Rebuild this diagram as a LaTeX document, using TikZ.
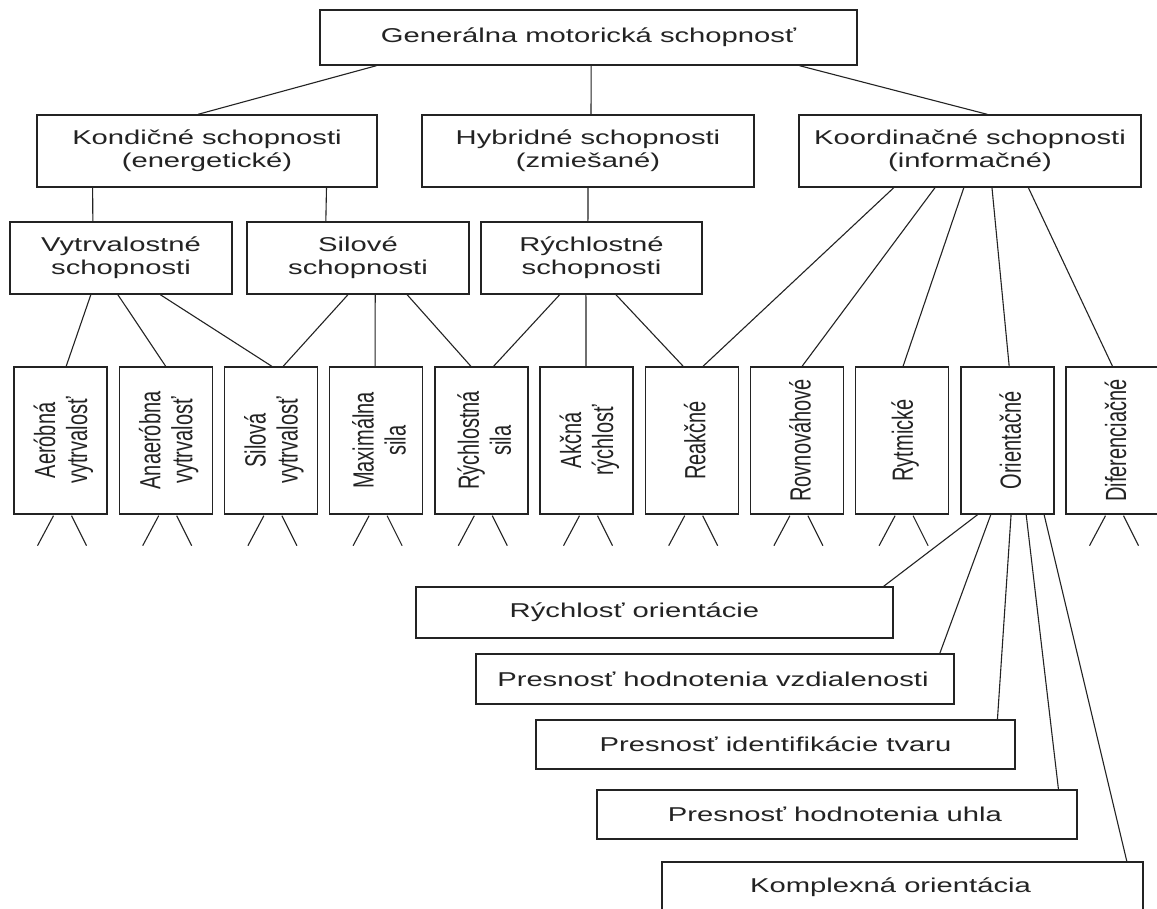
\documentclass[tikz,border=0pt]{standalone}
\usepackage{fontspec}
\newfontfamily\hfont[FakeStretch=1.46]{Liberation Sans}
\newfontfamily\vfont[FakeStretch=0.685]{Liberation Sans}
\usetikzlibrary{calc}
\definecolor{ink}{RGB}{35,35,35}
\begin{document}
\begin{tikzpicture}[x=1pt,y=-1pt,
  hbox/.style={draw=ink, line width=1.4pt, inner sep=0pt, text=ink, align=center,
    font=\hfont\fontsize{20}{23}\selectfont},
  vbox/.style={draw=ink, line width=1.4pt, inner sep=0pt, minimum width=93pt, minimum height=147pt},
  vtext/.style={rotate=90, inner sep=0pt, text=ink, align=center, yshift=-3pt,
    font=\vfont\fontsize{29.2}{32}\selectfont},
  ptext/.style={inner sep=0pt, text=ink, font=\hfont\fontsize{20}{23}\selectfont},
  link/.style={draw=ink, line width=1.1pt}]
\useasboundingbox (0,0) rectangle (1157,909);
\fill[white] (0,0) rectangle (1157,909);
\clip (0,0) rectangle (1157,909);

% level 1-3
\node[hbox, minimum width=537pt, minimum height=55pt] (T) at (588.5,37.5) {Generálna motorická schopnosť};
\node[hbox, minimum width=340pt, minimum height=72pt] (K) at (207,151) {Kondičné schopnosti\\(energetické)};
\node[hbox, minimum width=332pt, minimum height=72pt] (H) at (588,151) {Hybridné schopnosti\\(zmiešané)};
\node[hbox, minimum width=342pt, minimum height=72pt] (C) at (970,151) {Koordinačné schopnosti\\(informačné)};
\node[hbox, minimum width=222pt, minimum height=72pt] (V) at (121,258) {Vytrvalostné\\schopnosti};
\node[hbox, minimum width=222pt, minimum height=72pt] (S) at (358,258) {Silové\\schopnosti};
\node[hbox, minimum width=221pt, minimum height=72pt] (R) at (591.5,258) {Rýchlostné\\schopnosti};

% vertical boxes
\foreach \i in {1,...,11}
  \node[vbox] (b\i) at ({60.5+105.2*(\i-1)},440.5) {};
\foreach \i/\txt in {1/{Aeróbná\\vytrvalosť}, 2/{Anaeróbna\\vytrvalosť}, 3/{Silová\\vytrvalosť},
  4/{Maximálna\\sila}, 5/{Rýchlostná\\sila}, 6/{Akčná\\rýchlosť}, 7/{Reakčné},
  8/{Rovnováhové}, 9/{Rytmické}, 10/{Orientačné}, 11/{Diferenciačné}}
  \node[vtext] (t\i) at (b\i) {\txt};

% orientation sub-boxes
\node[hbox, minimum width=477pt, minimum height=51pt] (P1) at (654.5,612.5) {};
\node[hbox, minimum width=478pt, minimum height=50pt] (P2) at (715,679) {};
\node[hbox, minimum width=479pt, minimum height=49pt] (P3) at (775.5,744.5) {};
\node[hbox, minimum width=480pt, minimum height=49pt] (P4) at (837,814.5) {};
\node[hbox, minimum width=481pt, minimum height=50pt] (P5) at (902.5,887) {};
\node[ptext] (P1t) at ([xshift=-20pt]P1.center) {Rýchlosť orientácie};
\node[ptext] (P2t) at ([xshift=-2pt]P2.center) {Presnosť hodnotenia vzdialenosti};
\node[ptext] (P3t) at (P3.center) {Presnosť identifikácie tvaru};
\node[ptext] (P4t) at ([xshift=-2pt]P4.center) {Presnosť hodnotenia uhla};
\node[ptext] (P5t) at ([xshift=-12pt]P5.center) {Komplexná orientácia};

% connectors
\foreach \s/\fs/\d/\fd in {T/0.106/K/0.474, T/0.505/H/0.509, T/0.892/C/0.55,
  K/0.165/V/0.374, K/0.85/S/0.356, H/0.5/R/0.484,
  V/0.365/b1/0.56, V/0.486/b2/0.50, V/0.676/b3/0.51,
  S/0.455/b3/0.63, S/0.577/b4/0.49, S/0.72/b5/0.39,
  R/0.357/b5/0.63, R/0.475/b6/0.495, R/0.61/b7/0.41,
  C/0.278/b7/0.62, C/0.398/b8/0.555, C/0.482/b9/0.51, C/0.564/b10/0.52, C/0.67/b11/0.5,
  b10/0.185/P1/0.979, b10/0.325/P2/0.969, b10/0.54/P3/0.962, b10/0.70/P4/0.96, b10/0.89/P5/0.965}
  \draw[link] ($(\s.south west)!\fs!(\s.south east)$) -- ($(\d.north west)!\fd!(\d.north east)$);

% short open stubs below the boxes
\foreach \i in {1,...,9,11} {
  \draw[link] ($(b\i.south)+(-7,1)$) -- ++(-16,30);
  \draw[link] ($(b\i.south)+(11,1)$) -- ++(15,30);
}
\end{tikzpicture}
\end{document}
